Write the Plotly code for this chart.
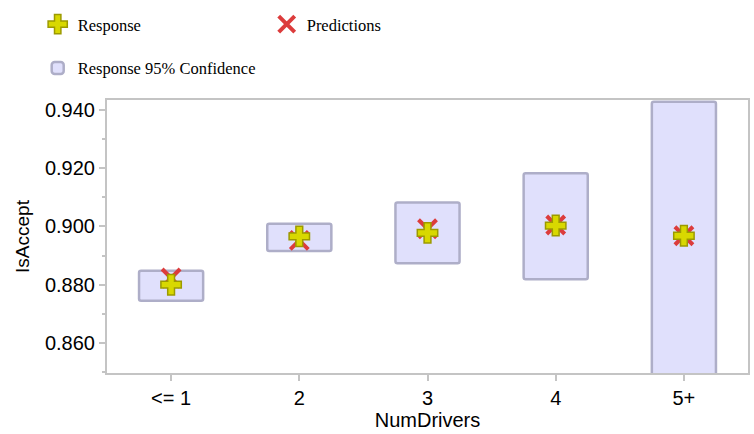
import plotly.graph_objects as go

# Acceptance rate by number of drivers
categories = ["<= 1", "2", "3", "4", "5+"]
response = [0.8800, 0.8966, 0.8978, 0.9003, 0.8968]
predictions = [0.8823, 0.8952, 0.8992, 0.9005, 0.8968]
ci_lower = [0.8745, 0.8916, 0.8874, 0.8819, 0.8490]
ci_upper = [0.8848, 0.9009, 0.9082, 0.9183, 0.9428]

y_ticks = [0.86, 0.88, 0.90, 0.92, 0.94]

axis_grey = "#c4c4c4"
serif = "Liberation Serif, Times New Roman, serif"
sans = "Liberation Sans, Arial, sans-serif"

fig = go.Figure()

# Confidence intervals as floating bars
fig.add_trace(go.Bar(
    x=categories,
    y=[u - l for u, l in zip(ci_upper, ci_lower)],
    base=ci_lower,
    width=0.5,
    marker=dict(color="#e0e0fc", line=dict(color="#aeaec8", width=2.5), cornerradius=2),
    name="Response 95% Confidence",
    legend="legend2",
    hoverinfo="skip",
))

fig.add_trace(go.Scatter(
    x=categories, y=predictions, mode="markers",
    marker=dict(symbol="x-thin", size=18, line=dict(color="#dc3c3c", width=4)),
    name="Predictions",
))

fig.add_trace(go.Scatter(
    x=categories, y=response, mode="markers",
    marker=dict(symbol="cross", size=17, color="#d8d800", line=dict(color="#9c9a00", width=1.5)),
    name="Response",
))

fig.update_layout(
    width=754, height=434,
    margin=dict(l=107, r=4, t=100, b=61),
    plot_bgcolor="white", paper_bgcolor="white",
    barmode="overlay",
    legend=dict(
        orientation="h", x=0.05, xanchor="left", y=0.984, yanchor="top",
        xref="container", yref="container",
        traceorder="reversed", entrywidth=184, entrywidthmode="pixels",
        font=dict(family=serif, size=16.5, color="black"),
        itemwidth=30,
    ),
    legend2=dict(
        orientation="h", x=0.05, xanchor="left", y=0.883, yanchor="top",
        xref="container", yref="container",
        font=dict(family=serif, size=16.5, color="black"),
        itemwidth=30,
    ),
    xaxis=dict(
        type="category", range=[-0.5, 4.5],
        showline=True, linecolor=axis_grey, linewidth=2, mirror=True,
        ticks="outside", ticklen=6, tickwidth=2, tickcolor=axis_grey,
        tickfont=dict(family=sans, size=20, color="black"),
        title=dict(text="NumDrivers", font=dict(family=sans, size=20, color="black"), standoff=5),
        showgrid=False, zeroline=False,
    ),
    yaxis=dict(
        range=[0.8497, 0.9434],
        tickvals=y_ticks, tickformat=".3f",
        showline=True, linecolor=axis_grey, linewidth=2, mirror=True,
        ticks="outside", ticklen=6, tickwidth=2, tickcolor=axis_grey,
        minor=dict(dtick=0.01, tick0=0.85, ticks="outside", ticklen=3, tickwidth=2, tickcolor=axis_grey),
        tickfont=dict(family=sans, size=20, color="black"),
        title=dict(text="IsAccept", font=dict(family=sans, size=19, color="black"), standoff=10),
        showgrid=False, zeroline=False,
    ),
)

fig.write_html("out.html")
